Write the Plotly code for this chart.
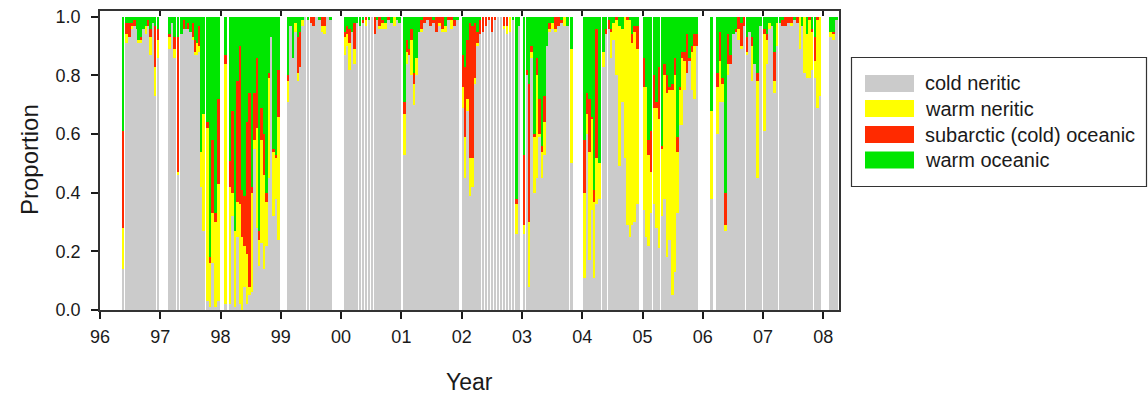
import plotly.graph_objects as go

# Sampling dates (decimal years, 96 = 1996) and proportional composition per sample
dates = [
    96.36, 96.42, 96.47, 96.51, 96.55, 96.59, 96.63, 96.66, 96.70, 96.74, 96.78, 96.82, 96.86, 96.89, 96.94,
    97.13, 97.17, 97.21, 97.27, 97.33, 97.37, 97.41, 97.45, 97.49, 97.52, 97.56, 97.60, 97.63, 97.66, 97.69,
    97.76, 97.80, 97.84, 97.89, 97.94, 98.06, 98.14, 98.18, 98.22, 98.26, 98.30, 98.34, 98.38, 98.42,
    98.46, 98.50, 98.54, 98.58, 98.62, 98.66, 98.70, 98.74, 98.78, 98.82, 98.86, 98.90, 98.94,
    99.10, 99.14, 99.18, 99.22, 99.26, 99.30, 99.34, 99.38, 99.43, 99.48, 99.52, 99.57, 99.62, 99.66, 99.70, 99.75, 99.80,
    100.04, 100.08, 100.12, 100.16, 100.20, 100.24, 100.29, 100.34, 100.39, 100.44, 100.49, 100.54, 100.58, 100.62,
    100.66, 100.71, 100.76, 100.81, 100.86, 100.91, 100.95,
    101.03, 101.07, 101.11, 101.15, 101.19, 101.23, 101.27, 101.31, 101.36, 101.41, 101.46, 101.51, 101.56, 101.61,
    101.66, 101.71, 101.76, 101.81, 101.86, 101.91,
    102.00, 102.04, 102.08, 102.12, 102.16, 102.20, 102.24, 102.28, 102.33, 102.38, 102.43, 102.48, 102.53, 102.58,
    102.63, 102.68, 102.73, 102.78, 102.83, 102.89, 102.93,
    103.01, 103.06, 103.10, 103.14, 103.19, 103.23, 103.27, 103.31, 103.35, 103.40, 103.44, 103.48, 103.53, 103.58,
    103.63, 103.68, 103.73, 103.80,
    104.02, 104.06, 104.10, 104.14, 104.18, 104.22, 104.26, 104.33, 104.37, 104.42, 104.46, 104.50, 104.55, 104.60,
    104.64, 104.69, 104.73, 104.77, 104.81, 104.85, 104.90,
    105.00, 105.04, 105.08, 105.12, 105.17, 105.21, 105.25, 105.30, 105.34, 105.39, 105.43, 105.48, 105.52, 105.56,
    105.60, 105.64, 105.68, 105.72, 105.76, 105.80, 105.84, 105.88,
    106.12, 106.22, 106.27, 106.31, 106.36, 106.40, 106.44, 106.49, 106.53, 106.57, 106.62, 106.66, 106.71, 106.75,
    106.80, 106.84, 106.89, 106.93,
    107.00, 107.05, 107.09, 107.13, 107.17, 107.21, 107.26, 107.30, 107.35, 107.40, 107.45, 107.50, 107.55, 107.59,
    107.63, 107.67, 107.71, 107.75, 107.79, 107.84, 107.88, 107.92,
    108.10, 108.15, 108.20,
]

cold_neritic = [
    .14, .91, .93, .96, .97, .96, .91, .91, .96, .94, .97, .87, .98, .73, .86,
    .89, .98, .86, .46, .94, .96, .96, .96, .95, .92, .87, .87, .88, .42, .27,
    .03, .01, .16, .01, .03, .02, .02, .32, .01, .25, .02, 0, .08, .02,
    .05, .06, .55, .28, .15, .23, .14, .22, .45, .93, .32, .38, .24,
    .71, .97, .86, .95, .78, .83, .97, 1, .99, .98, .97, 1, .99, .95, .94, 1, .99,
    .87, .90, .82, .95, .84, .98, .97, .98, .97, .99, 1, .94, .99, .96,
    .96, .96, .99, .98, .97, .99, .98,
    .53, .84, .87, .80, .70, .80, .95, .95, .98, .99, .97, .98, .95, .97,
    .95, .95, .99, .96, .97, .99,
    .69, .45, .68, .39, .42, .77, .90, .94, .95, .97, .99, .95, .99, 1,
    1, .96, .94, .95, .99, .26, .97,
    .26, .80, .08, .86, .40, .45, .59, .45, .53, .90, .95, .96, .95, .97,
    .98, .97, .97, .50,
    .11, .60, .17, .34, .11, .36, .38, .83, .94, .96, .86, .92, .80, .49,
    .71, .52, .29, .25, .29, .30, .36,
    .34, .25, .22, .33, .36, .28, .21, .32, .38, .18, .24, .05, .13, .33,
    .63, .63, .75, .81, .85, .75, .72, .90,
    .38, .60, .71, .71, .27, .80, .84, .94, .95, .92, .89, .97, .87, .95,
    .78, .84, .45, .97,
    .61, .84, .96, .97, .74, .90, .98, .97, .97, .98, .97, .99, .98, .89,
    .97, .81, .79, .79, .82, .79, .69, .73,
    .93, .92, .99,
]

warm_neritic = [
    .14, .03, 0, .01, 0, 0, .01, .01, 0, .03, 0, .06, 0, .10, .06,
    .04, 0, .03, .01, 0, 0, 0, 0, 0, .01, .01, .04, .02, .12, .40,
    .59, .15, .17, .29, .40, .82, .40, .08, .26, .12, .34, .25, .14, .17,
    .03, .34, .03, .34, .09, .35, .32, .15, .34, 0, .22, .14, .42,
    .07, 0, 0, .03, .03, 0, .02, 0, 0, 0, 0, 0, 0, .02, .03, 0, 0,
    .06, .04, .09, 0, .05, 0, 0, 0, .02, 0, 0, 0, 0, .01,
    .02, .02, 0, 0, .03, 0, 0,
    .14, .04, 0, .12, .07, .06, 0, .01, 0, 0, 0, 0, 0, .01,
    .01, .02, 0, .03, 0, 0,
    .07, .14, .04, .13, .10, .02, .01, 0, 0, 0, 0, 0, 0, 0,
    0, .01, .03, .05, 0, .10, 0,
    .03, 0, .22, .02, .19, .35, .01, .09, .11, 0, .01, .02, .01, 0,
    0, .03, 0, .39,
    .29, .07, .37, .31, .26, .16, .12, .05, 0, 0, .09, .06, .19, .48,
    .25, .48, .70, .74, .62, .65, .53,
    .42, .51, .31, .14, .33, .41, .44, .23, .42, .56, .51, .70, .67, .21,
    .12, .23, .10, 0, 0, .13, .18, 0,
    .30, .16, .14, .06, .02, .04, 0, 0, 0, .04, .01, 0, .01, 0,
    .12, 0, .33, 0,
    .33, .08, .02, 0, .04, .08, 0, 0, 0, 0, .01, 0, 0, .11,
    0, .19, .15, .20, .13, .06, .30, .27,
    .02, .02, 0,
]

subarctic_oceanic = [
    .33, .04, .05, .01, .02, 0, 0, .01, 0, 0, .02, .03, 0, .14, .04,
    .01, 0, .04, .46, 0, .03, 0, .02, 0, .05, .04, 0, .07, 0, 0,
    .02, .02, .25, .03, .29, .03, .09, .28, 0, .41, .54, .16, .17, .45,
    .66, .02, .16, .24, .03, .11, .14, .03, .02, 0, .01, .01, .16,
    .02, 0, 0, 0, .12, .12, 0, 0, 0, .02, .03, 0, 0, .03, .03, 0, 0,
    .02, .03, .05, 0, .09, 0, 0, .01, .01, 0, 0, .06, 0, .03,
    .01, 0, .01, 0, 0, 0, 0,
    .04, .04, .02, .04, .04, 0, 0, .03, .02, .01, .03, .01, .05, .02,
    .04, 0, .01, .01, .02, 0,
    .11, .24, .20, .46, .45, .19, .04, .05, .05, .03, .01, .05, .01, 0,
    0, .03, .03, 0, 0, .02, 0,
    .24, .02, .47, .02, .01, .06, .12, .02, .09, 0, .02, 0, .04, .03,
    .01, 0, 0, 0,
    .18, .07, .18, .01, .04, .44, 0, 0, .02, .03, .01, 0, .01, 0,
    0, 0, .01, 0, .03, .02, .08,
    .10, 0, .05, .14, .11, .02, .18, .01, .04, .06, .01, .02, .06, .05,
    .01, .02, .03, .13, .01, .02, .04, .04,
    0, .05, .10, .02, .11, .10, .03, 0, .01, .04, .08, .03, .05, 0,
    .03, 0, .03, 0,
    .02, .02, 0, 0, .10, 0, 0, .02, .03, .02, .02, 0, .02, 0,
    0, 0, 0, .01, .01, .08, .01, 0,
    0, .01, 0,
]

warm_oceanic = [
    .39, .02, .02, .02, .01, .04, .08, .07, .04, .03, .01, .04, .02, .03, .04,
    .06, .02, .07, .07, .06, .01, .04, .02, .05, .02, .08, .09, .03, .46, .33,
    .36, .82, .42, .67, .28, .13, .49, .32, .73, .22, .10, .59, .61, .36,
    .26, .58, .26, .14, .73, .31, .40, .60, .19, .07, .45, .47, .18,
    .20, .03, .14, .02, .07, .05, .01, 0, .01, 0, 0, 0, .01, 0, 0, 0, .01,
    .05, .03, .04, .05, .02, .02, .03, .01, 0, .01, 0, 0, .01, 0,
    .01, .02, 0, .02, 0, .01, .02,
    .29, .08, .11, .04, .19, .14, .05, .01, 0, 0, 0, .01, 0, 0,
    0, .03, 0, 0, .01, .01,
    .13, .17, .08, .02, .03, .02, .05, .01, 0, 0, 0, 0, 0, 0,
    0, 0, 0, 0, .01, .62, .03,
    .47, .18, .23, .10, .40, .14, .28, .44, .27, .10, .02, .02, 0, 0,
    .01, 0, .03, .11,
    .42, .26, .28, .34, .59, .04, .50, .12, .04, .01, .04, .02, 0, .03,
    .04, 0, 0, .01, .06, .03, .03,
    .14, .24, .42, .39, .20, .29, .17, .44, .16, .20, .24, .23, .14, .41,
    .24, .12, .12, .06, .14, .10, .06, .06,
    .32, .19, .05, .21, .60, .06, .13, .06, .04, 0, .02, 0, .07, .05,
    .07, .16, .19, .03,
    .04, .06, .02, .03, .12, .02, .02, .01, 0, 0, 0, .01, 0, 0,
    .03, 0, .06, 0, .04, .07, 0, 0,
    .05, .05, .01,
]

tick_years = [96, 97, 98, 99, 100, 101, 102, 103, 104, 105, 106, 107, 108]
tick_labels = ["96", "97", "98", "99", "00", "01", "02", "03", "04", "05", "06", "07", "08"]
y_ticks = [0.0, 0.2, 0.4, 0.6, 0.8, 1.0]

series = [
    ("cold neritic", cold_neritic, "#cbcbcb"),
    ("warm neritic", warm_neritic, "#ffff00"),
    ("subarctic (cold) oceanic", subarctic_oceanic, "#ff2a00"),
    ("warm oceanic", warm_oceanic, "#00e600"),
]

# Each bar spans from its sampling date towards the next one; wider
# sampling intervals leave thin white seams, long breaks leave white space
widths = []
for i, d in enumerate(dates):
    step = dates[i + 1] - d if i + 1 < len(dates) else 0.05
    widths.append(min(step, 0.045))

FONT = "Liberation Sans, Arial, sans-serif"
INK = "#1a1a1a"

fig = go.Figure()
for name, vals, color in series:
    fig.add_bar(x=dates, y=vals, width=widths, offset=0, name=name,
                marker=dict(color=color, line=dict(width=0)), showlegend=False)

L, R, T, B = 100, 839, 11, 310
W, H = 1148, 402

fig.update_layout(
    width=W, height=H,
    margin=dict(l=L, r=W - R, t=T, b=H - B, autoexpand=False),
    barmode="stack", bargap=0,
    plot_bgcolor="white", paper_bgcolor="white",
    font=dict(family=FONT, color=INK),
    xaxis=dict(range=[96, 108.26], tickvals=tick_years, ticktext=tick_labels,
               ticks="outside", ticklen=7, tickwidth=1.5, tickcolor=INK,
               showline=True, linecolor="#333333", linewidth=1.5, mirror=True,
               showgrid=False, zeroline=False, ticklabelstandoff=3,
               tickfont=dict(size=18, family=FONT, color=INK)),
    xaxis2=dict(range=[96, 108.26], overlaying="x", side="top", anchor="y",
                tickvals=tick_years, ticks="inside", ticklen=5, tickwidth=1.5, tickcolor=INK,
                showticklabels=False, showline=False, showgrid=False, zeroline=False),
    yaxis=dict(range=[0, 1.02], tickvals=y_ticks, tickformat=".1f",
               ticks="outside", ticklen=7, tickwidth=1.5, tickcolor=INK,
               showline=True, linecolor="#333333", linewidth=1.5, mirror=True,
               showgrid=False, zeroline=False, ticklabelstandoff=7,
               tickfont=dict(size=18, family=FONT, color=INK)),
)

# Invisible trace so the top tick axis is drawn
fig.add_scatter(x=[96], y=[0], xaxis="x2", mode="markers", marker=dict(opacity=0),
                showlegend=False, hoverinfo="skip")


# Pixel position -> paper coordinates (paper spans the plotting area)
def px_x(p):
    return (p - L) / (R - L)


def px_y(p):
    return (B - p) / (B - T)


# Axis titles
fig.add_annotation(text="Year", x=px_x((L + R) / 2), y=px_y(382), xref="paper", yref="paper",
                   showarrow=False, font=dict(size=23, family=FONT, color=INK),
                   xanchor="center", yanchor="middle")
fig.add_annotation(text="Proportion", x=px_x(29), y=px_y(160), xref="paper", yref="paper",
                   showarrow=False, textangle=-90, font=dict(size=24, family=FONT, color=INK),
                   xanchor="center", yanchor="middle")

# Legend
fig.add_shape(type="rect", xref="paper", yref="paper",
              x0=px_x(851.5), x1=px_x(1146.5), y0=px_y(186.5), y1=px_y(57.5),
              line=dict(color="#333333", width=1.2), fillcolor="white")
row_centers = [83.5, 108.5, 134.5, 160]
for (name, _, color), yc in zip(series, row_centers):
    fig.add_shape(type="rect", xref="paper", yref="paper",
                  x0=px_x(865), x1=px_x(914), y0=px_y(yc + 8.5), y1=px_y(yc - 8.5),
                  line=dict(width=0), fillcolor=color)
    fig.add_annotation(text=name, xref="paper", yref="paper", x=px_x(923), y=px_y(yc),
                       xanchor="left", yanchor="middle", showarrow=False,
                       font=dict(size=20, family=FONT, color=INK))

fig.write_html("out.html")
